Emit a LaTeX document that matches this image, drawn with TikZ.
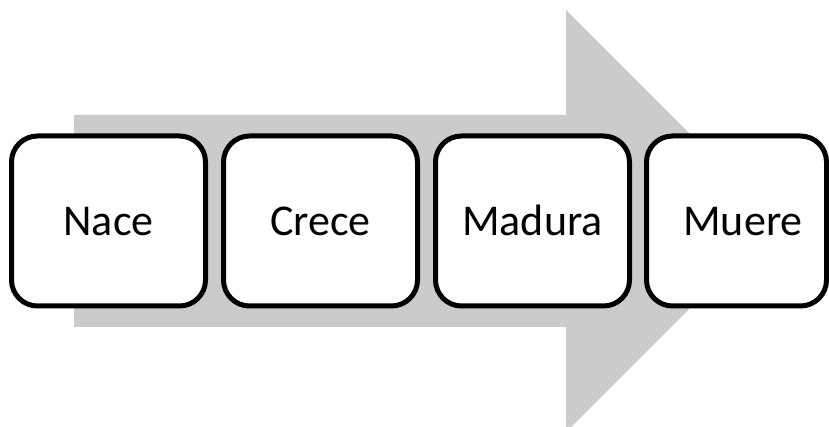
\documentclass[tikz,border=0pt]{standalone}
\usepackage{fontspec}
\setmainfont{Carlito}
\definecolor{arrowgray}{RGB}{203,203,203}
\tikzset{
  stagebox/.style={draw=black, line width=5pt, fill=white, rounded corners=26pt,
    minimum width=194pt, minimum height=170pt, inner sep=0pt,
    text height=28.5pt, text depth=0pt,
    font=\fontsize{44}{50}\selectfont, text=black},
}
\begin{document}
\begin{tikzpicture}[x=1pt,y=1pt]
  \useasboundingbox (0,0) rectangle (829,427);
  \begin{scope}
    \clip (0,0) rectangle (829,427);
    % broad grey process arrow behind the stages
    \fill[arrowgray] (74,312) -- (566,312) -- (566,417) -- (777,206)
      -- (566,-5) -- (566,100) -- (74,100) -- cycle;
    % stages
    \node[stagebox] (nace)   at (108.5,206) {Nace};
    \node[stagebox] (crece)  at (320.5,206) {Crece};
    \node[stagebox] (madura) at (532.5,206) {Madura};
    \node[stagebox, minimum width=180pt] (muere) at (736.5,206) {\hspace*{13pt}Muere};
  \end{scope}
\end{tikzpicture}
\end{document}
